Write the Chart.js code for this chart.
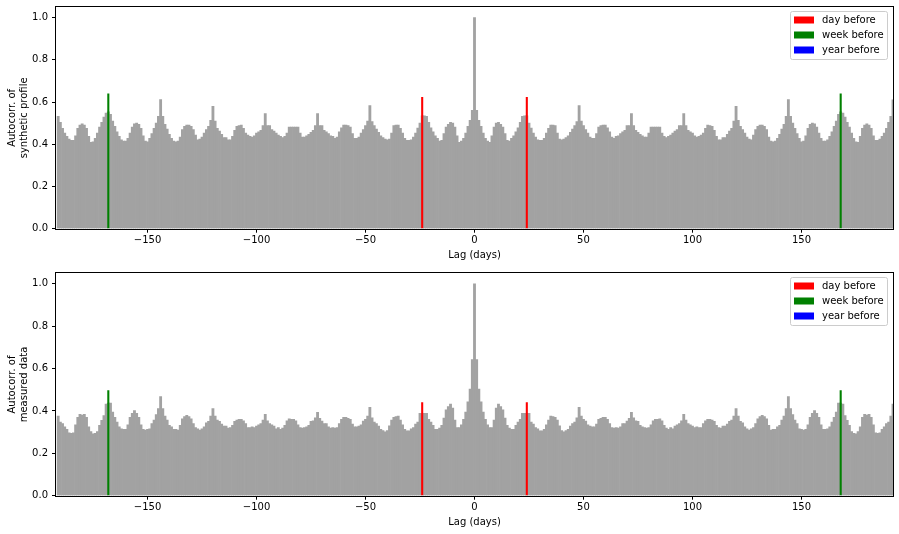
<!DOCTYPE html>
<html>
<head>
<meta charset="utf-8">
<script src="https://cdn.jsdelivr.net/npm/chart.js@4.4.0/dist/chart.umd.min.js"></script>
<style>
  body { margin: 0; background: #fff; }
  canvas { position: absolute; left: 0; }
</style>
</head>
<body>
<canvas id="synthChart" width="899" height="265" style="top:0px"></canvas>
<canvas id="measChart" width="899" height="266" style="top:266px"></canvas>
<script>
// lags in the plot (hours, labelled as days in the original figure)
const lags = [];
for (let l = -191; l <= 192; l++) lags.push(l);

const xTickValues = [-150, -100, -50, 0, 50, 100, 150];
const yTickValues = [0, 0.2, 0.4, 0.6, 0.8, 1.0];

// autocorrelation of the synthetic profile, lags -191 .. 192
const synthAcf = [
  0.532, 0.504, 0.475, 0.453, 0.437, 0.424, 0.418, 0.418, 0.440, 0.475, 0.491, 0.497,
  0.491, 0.475, 0.437, 0.409, 0.412, 0.428, 0.453, 0.481, 0.504, 0.529, 0.548, 0.554,
  0.542, 0.510, 0.485, 0.459, 0.437, 0.421, 0.415, 0.415, 0.428, 0.453, 0.481, 0.497,
  0.500, 0.494, 0.475, 0.440, 0.415, 0.412, 0.428, 0.450, 0.475, 0.500, 0.532, 0.611,
  0.532, 0.494, 0.472, 0.447, 0.428, 0.415, 0.412, 0.415, 0.434, 0.469, 0.485, 0.491,
  0.491, 0.485, 0.469, 0.443, 0.421, 0.424, 0.434, 0.453, 0.469, 0.485, 0.513, 0.580,
  0.510, 0.475, 0.462, 0.447, 0.431, 0.431, 0.421, 0.421, 0.437, 0.466, 0.485, 0.488,
  0.491, 0.475, 0.453, 0.443, 0.437, 0.434, 0.440, 0.453, 0.459, 0.466, 0.488, 0.545,
  0.488, 0.488, 0.469, 0.462, 0.453, 0.443, 0.437, 0.431, 0.437, 0.453, 0.481, 0.481,
  0.481, 0.481, 0.481, 0.453, 0.434, 0.434, 0.440, 0.447, 0.456, 0.466, 0.488, 0.545,
  0.488, 0.488, 0.466, 0.459, 0.450, 0.440, 0.437, 0.428, 0.434, 0.459, 0.478, 0.491,
  0.491, 0.488, 0.481, 0.450, 0.428, 0.428, 0.434, 0.453, 0.469, 0.488, 0.510, 0.583,
  0.507, 0.488, 0.472, 0.456, 0.440, 0.431, 0.424, 0.421, 0.424, 0.453, 0.488, 0.491,
  0.491, 0.475, 0.453, 0.428, 0.418, 0.418, 0.421, 0.434, 0.453, 0.477, 0.500, 0.535,
  0.535, 0.532, 0.504, 0.478, 0.459, 0.440, 0.428, 0.415, 0.418, 0.450, 0.481, 0.494,
  0.504, 0.500, 0.481, 0.440, 0.409, 0.415, 0.428, 0.453, 0.485, 0.513, 0.561, 1.000,
  0.561, 0.513, 0.485, 0.453, 0.428, 0.415, 0.409, 0.440, 0.481, 0.500, 0.504, 0.494,
  0.481, 0.450, 0.418, 0.415, 0.428, 0.440, 0.459, 0.478, 0.504, 0.532, 0.535, 0.535,
  0.500, 0.477, 0.453, 0.434, 0.421, 0.418, 0.418, 0.428, 0.453, 0.475, 0.491, 0.491,
  0.488, 0.453, 0.424, 0.421, 0.424, 0.431, 0.440, 0.456, 0.472, 0.488, 0.507, 0.583,
  0.510, 0.488, 0.469, 0.453, 0.434, 0.428, 0.428, 0.450, 0.481, 0.488, 0.491, 0.491,
  0.478, 0.459, 0.434, 0.428, 0.437, 0.440, 0.450, 0.459, 0.466, 0.488, 0.488, 0.545,
  0.488, 0.466, 0.456, 0.447, 0.440, 0.434, 0.434, 0.453, 0.481, 0.481, 0.481, 0.481,
  0.481, 0.453, 0.437, 0.431, 0.437, 0.443, 0.453, 0.462, 0.469, 0.488, 0.488, 0.545,
  0.488, 0.466, 0.459, 0.453, 0.440, 0.434, 0.437, 0.443, 0.453, 0.475, 0.491, 0.488,
  0.485, 0.466, 0.437, 0.421, 0.421, 0.431, 0.431, 0.447, 0.462, 0.475, 0.510, 0.580,
  0.513, 0.485, 0.469, 0.453, 0.434, 0.424, 0.421, 0.443, 0.469, 0.485, 0.491, 0.491,
  0.485, 0.469, 0.434, 0.415, 0.412, 0.415, 0.428, 0.447, 0.472, 0.494, 0.532, 0.611,
  0.532, 0.500, 0.475, 0.450, 0.428, 0.412, 0.415, 0.440, 0.475, 0.494, 0.500, 0.497,
  0.481, 0.453, 0.428, 0.415, 0.415, 0.421, 0.437, 0.459, 0.485, 0.510, 0.542, 0.554,
  0.548, 0.529, 0.504, 0.481, 0.453, 0.428, 0.412, 0.409, 0.437, 0.475, 0.491, 0.497,
  0.491, 0.475, 0.440, 0.418, 0.418, 0.424, 0.437, 0.453, 0.475, 0.504, 0.532, 0.610
];

// autocorrelation of the measured data, lags -191 .. 192
const measAcf = [
  0.376, 0.348, 0.341, 0.325, 0.313, 0.297, 0.294, 0.297, 0.335, 0.370, 0.384, 0.381,
  0.384, 0.370, 0.325, 0.303, 0.292, 0.294, 0.303, 0.332, 0.356, 0.378, 0.432, 0.437,
  0.437, 0.395, 0.370, 0.348, 0.325, 0.316, 0.313, 0.313, 0.335, 0.370, 0.389, 0.402,
  0.389, 0.370, 0.335, 0.313, 0.310, 0.313, 0.316, 0.341, 0.357, 0.383, 0.411, 0.468,
  0.411, 0.376, 0.357, 0.332, 0.325, 0.313, 0.313, 0.310, 0.332, 0.363, 0.373, 0.379,
  0.373, 0.363, 0.341, 0.322, 0.316, 0.310, 0.316, 0.325, 0.344, 0.351, 0.376, 0.411,
  0.376, 0.357, 0.351, 0.338, 0.329, 0.329, 0.319, 0.322, 0.332, 0.351, 0.357, 0.360,
  0.360, 0.354, 0.341, 0.322, 0.322, 0.325, 0.322, 0.329, 0.335, 0.341, 0.357, 0.384,
  0.354, 0.341, 0.335, 0.329, 0.316, 0.322, 0.313, 0.319, 0.332, 0.354, 0.363, 0.360,
  0.360, 0.354, 0.335, 0.322, 0.319, 0.322, 0.325, 0.332, 0.351, 0.354, 0.368, 0.394,
  0.365, 0.352, 0.341, 0.341, 0.325, 0.319, 0.322, 0.319, 0.322, 0.341, 0.360, 0.370,
  0.370, 0.365, 0.360, 0.338, 0.325, 0.325, 0.329, 0.335, 0.352, 0.360, 0.376, 0.417,
  0.368, 0.348, 0.341, 0.329, 0.313, 0.308, 0.302, 0.308, 0.330, 0.357, 0.370, 0.373,
  0.376, 0.357, 0.335, 0.313, 0.306, 0.306, 0.316, 0.322, 0.338, 0.348, 0.389, 0.389,
  0.389, 0.389, 0.360, 0.348, 0.332, 0.313, 0.313, 0.319, 0.332, 0.367, 0.405, 0.421,
  0.433, 0.414, 0.357, 0.322, 0.322, 0.335, 0.360, 0.395, 0.443, 0.503, 0.643, 1.000,
  0.643, 0.503, 0.443, 0.395, 0.360, 0.335, 0.322, 0.322, 0.357, 0.414, 0.433, 0.421,
  0.405, 0.367, 0.332, 0.319, 0.313, 0.313, 0.332, 0.348, 0.360, 0.389, 0.389, 0.389,
  0.389, 0.348, 0.338, 0.322, 0.316, 0.306, 0.306, 0.313, 0.335, 0.357, 0.376, 0.373,
  0.370, 0.357, 0.330, 0.308, 0.302, 0.308, 0.313, 0.329, 0.341, 0.348, 0.368, 0.417,
  0.376, 0.360, 0.352, 0.335, 0.329, 0.325, 0.325, 0.338, 0.360, 0.365, 0.370, 0.370,
  0.360, 0.341, 0.322, 0.319, 0.322, 0.319, 0.325, 0.341, 0.341, 0.352, 0.365, 0.394,
  0.368, 0.354, 0.351, 0.332, 0.325, 0.322, 0.319, 0.322, 0.335, 0.354, 0.360, 0.360,
  0.363, 0.354, 0.332, 0.319, 0.313, 0.322, 0.316, 0.329, 0.335, 0.341, 0.354, 0.384,
  0.357, 0.341, 0.335, 0.329, 0.322, 0.325, 0.322, 0.322, 0.341, 0.354, 0.360, 0.360,
  0.357, 0.351, 0.332, 0.322, 0.319, 0.329, 0.329, 0.338, 0.351, 0.357, 0.376, 0.411,
  0.376, 0.351, 0.344, 0.325, 0.316, 0.310, 0.316, 0.322, 0.341, 0.363, 0.373, 0.379,
  0.373, 0.363, 0.332, 0.310, 0.313, 0.313, 0.325, 0.332, 0.357, 0.376, 0.411, 0.468,
  0.411, 0.383, 0.357, 0.341, 0.316, 0.313, 0.310, 0.313, 0.335, 0.370, 0.389, 0.402,
  0.389, 0.370, 0.335, 0.313, 0.313, 0.316, 0.325, 0.348, 0.370, 0.395, 0.437, 0.437,
  0.432, 0.378, 0.356, 0.332, 0.303, 0.294, 0.292, 0.303, 0.325, 0.370, 0.384, 0.381,
  0.384, 0.370, 0.335, 0.297, 0.294, 0.297, 0.313, 0.325, 0.341, 0.348, 0.376, 0.432
];

// highlighted lags
const dayLags = [-24, 24];
const weekLags = [-168, 168];
const yearLags = [];  // one year is far outside the plotted range

const synthDay = [0.624, 0.624];
const synthWeek = [0.640, 0.640];
const synthYear = [];
const measDay = [0.441, 0.441];
const measWeek = [0.498, 0.498];
const measYear = [];

const font = { family: 'DejaVu Sans', size: 10 };

function points(xs, ys) {
    return xs.map((x, i) => ({ x: x, y: ys[i] }));
}

// spines on all four sides + matplotlib style legend inside the axes
const framePlugin = {
    id: 'frame',
    afterDraw(chart) {
        const ctx = chart.ctx;
        const a = chart.chartArea;
        const l = Math.round(a.left) - 0.5, r = Math.round(a.right) + 0.5;
        const t = Math.round(a.top) - 0.5, b = Math.round(a.bottom) + 0.5;
        ctx.save();
        ctx.strokeStyle = '#000';
        ctx.lineWidth = 1;
        ctx.strokeRect(l, t, r - l, b - t);

        const entries = chart.data.datasets.filter(d => d.inLegend);
        const bx = Math.round(a.right) - 102.5, by = Math.round(a.top) + 4.5, bw = 97, bh = 48;
        ctx.fillStyle = 'rgba(255,255,255,0.8)';
        ctx.strokeStyle = '#cccccc';
        ctx.beginPath();
        ctx.roundRect(bx, by, bw, bh, 2);
        ctx.fill();
        ctx.stroke();
        ctx.font = '10px "DejaVu Sans"';
        ctx.textBaseline = 'middle';
        entries.forEach((d, i) => {
            const cy = by + 8.5 + i * 15;
            ctx.fillStyle = d.backgroundColor;
            ctx.fillRect(bx + 3.5, cy - 3.5, 20, 7);
            ctx.fillStyle = '#000';
            ctx.fillText(d.label, bx + 31.5, cy);
        });
        ctx.restore();
    }
};

function makeChart(id, acf, dayVals, weekVals, yearVals, yTitle, areaTop, areaBottom) {
    const canvas = document.getElementById(id);
    const box = { xh: canvas.height - areaBottom };
    const chart = new Chart(canvas, {
        type: 'bar',
        data: {
            datasets: [{
                label: 'autocorrelation',
                data: points(lags, acf),
                backgroundColor: '#a2a2a2',
                barPercentage: 1,
                categoryPercentage: 1,
                grouped: false,
                order: 2
            }, {
                label: 'day before',
                data: points(dayLags, dayVals),
                backgroundColor: '#ff0000',
                barPercentage: 0.95,
                categoryPercentage: 1,
                grouped: false,
                inLegend: true,
                order: 1
            }, {
                label: 'week before',
                data: points(weekLags, weekVals),
                backgroundColor: '#008000',
                barPercentage: 0.95,
                categoryPercentage: 1,
                grouped: false,
                inLegend: true,
                order: 1
            }, {
                label: 'year before',
                data: points(yearLags, yearVals),
                backgroundColor: '#0000ff',
                barPercentage: 0.95,
                categoryPercentage: 1,
                grouped: false,
                inLegend: true,
                order: 1
            }]
        },
        options: {
            responsive: false,
            animation: false,
            layout: { padding: { top: areaTop, right: 6, left: 0, bottom: 0 } },
            plugins: {
                legend: { display: false },
                tooltip: { enabled: false }
            },
            scales: {
                x: {
                    type: 'linear',
                    min: -192,
                    max: 192,
                    offset: false,
                    border: { display: false },
                    grid: { offset: false, drawOnChartArea: false, drawTicks: true, tickLength: 4, tickColor: '#000' },
                    ticks: {
                        font: font,
                        color: '#000',
                        padding: 2,
                        maxRotation: 0,
                        callback: v => (v < 0 ? '\u2212' + Math.abs(v) : String(v))
                    },
                    afterBuildTicks: s => { s.ticks = xTickValues.map(v => ({ value: v })); },
                    afterFit: s => {
                        s.height = box.xh;
                        s.paddingLeft = 0;
                        s.paddingRight = 0;
                    },
                    title: { display: true, text: 'Lag (days)', font: font, color: '#000', padding: { top: 0, bottom: 4 } }
                },
                y: {
                    min: 0,
                    max: 1.05,
                    border: { display: false },
                    grid: { drawOnChartArea: false, drawTicks: true, tickLength: 4, tickColor: '#000' },
                    ticks: {
                        font: font,
                        color: '#000',
                        padding: 4,
                        callback: v => v.toFixed(1)
                    },
                    afterBuildTicks: s => { s.ticks = yTickValues.map(v => ({ value: v })); },
                    afterFit: s => {
                        s.width = 56;
                        s.paddingTop = 0;
                        s.paddingBottom = 0;
                    },
                    title: { display: true, text: yTitle, font: font, color: '#000', padding: { top: 6, bottom: 0 } }
                }
            }
        },
        plugins: [framePlugin]
    });
    // nudge the layout so the plot area lands where the original axes are
    const dTop = areaTop - chart.chartArea.top;
    const dBottom = chart.chartArea.bottom - areaBottom;
    if (Math.abs(dTop) > 0.01 || Math.abs(dBottom) > 0.01) {
        chart.options.layout.padding = { top: areaTop + dTop, right: 6, left: 0, bottom: 0 };
        box.xh += dBottom;
        chart.update();
    }
    return chart;
}

makeChart('synthChart', synthAcf, synthDay, synthWeek, synthYear,
          ['Autocorr. of', 'synthetic profile'], 7.0, 228.7);
makeChart('measChart', measAcf, measDay, measWeek, measYear,
          ['Autocorr. of', 'measured data'], 7.3, 229.7);
</script>
</body>
</html>
